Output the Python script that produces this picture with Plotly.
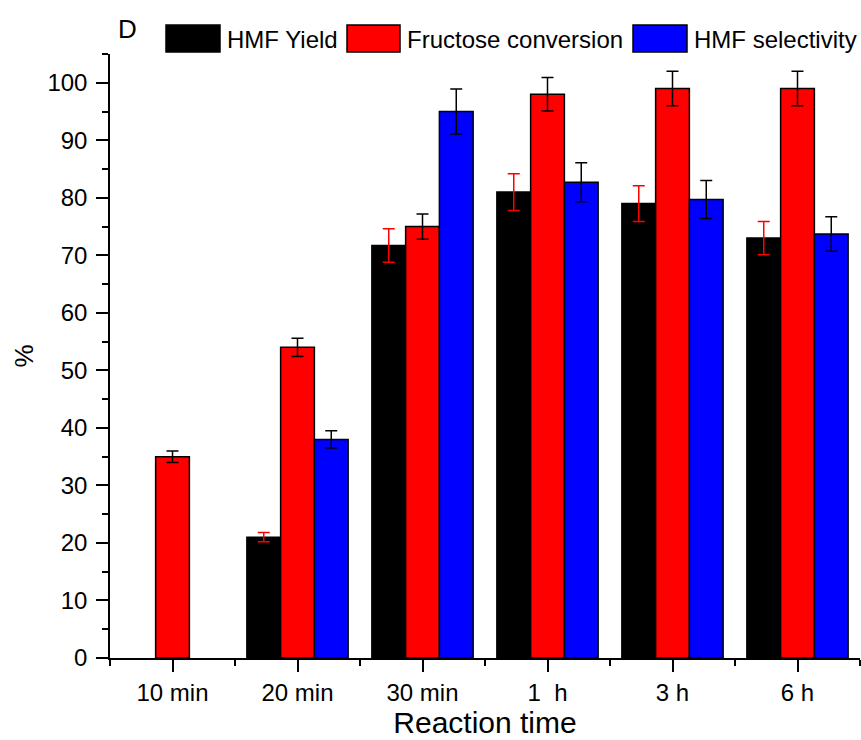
import plotly.graph_objects as go

# Reaction-time categories
categories = ["10 min", "20 min", "30 min", "1  h", "3 h", "6 h"]

# Series values (%) and their error bar half-widths
hmf_yield = [None, 21.0, 71.7, 81.0, 79.0, 73.0]
hmf_yield_err = [None, 0.8, 2.9, 3.2, 3.1, 2.9]

fructose_conv = [35.0, 54.0, 75.0, 98.0, 99.0, 99.0]
fructose_conv_err = [1.0, 1.6, 2.2, 2.9, 3.0, 3.0]

hmf_select = [None, 38.0, 95.0, 82.7, 79.7, 73.7]
hmf_select_err = [None, 1.5, 3.9, 3.4, 3.3, 3.0]

series = [
    ("HMF Yield", hmf_yield, hmf_yield_err, "#000000", "#ff0000"),
    ("Fructose conversion", fructose_conv, fructose_conv_err, "#ff0000", "#000000"),
    ("HMF selectivity", hmf_select, hmf_select_err, "#0000ff", "#000000"),
]

FONT = "Liberation Sans, Arial, sans-serif"
x_idx = list(range(len(categories)))

fig = go.Figure()
for name, vals, errs, fill, errcolor in series:
    fig.add_trace(go.Bar(
        x=x_idx, y=vals, name=name,
        marker=dict(color=fill, line=dict(color="#000000", width=1.5)),
        error_y=dict(type="data", array=errs, visible=True,
                     color=errcolor, thickness=1.5, width=6),
        showlegend=False,
    ))

# Legend drawn as large swatches with labels along the top edge
W, H = 861, 740
L, R, T, B = 110, 1, 54, 82
pw, ph = W - L - R, H - T - B

def px_x(px):
    return (px - L) / pw

def px_y(py):
    return (H - B - py) / ph

legend_pos = [(166, 220), (347, 400), (633, 687)]
shapes = []
annotations = []
for (name, _, _, fill, _), (x0, x1) in zip(series, legend_pos):
    shapes.append(dict(type="rect", xref="paper", yref="paper",
                       x0=px_x(x0), x1=px_x(x1), y0=px_y(52), y1=px_y(25),
                       fillcolor=fill, line=dict(color="#000000", width=1.5)))
    annotations.append(dict(text=name, xref="paper", yref="paper",
                            x=px_x(x1 + 5), y=px_y(39), xanchor="left",
                            yanchor="middle", showarrow=False,
                            font=dict(family=FONT, size=24, color="#000000")))

annotations.append(dict(text="D", xref="paper", yref="paper",
                        x=px_x(127), y=px_y(29), xanchor="center",
                        yanchor="middle", showarrow=False,
                        font=dict(family=FONT, size=26, color="#000000")))

fig.update_layout(
    width=W, height=H,
    margin=dict(l=L, r=R, t=T, b=B, pad=0),
    paper_bgcolor="white", plot_bgcolor="white",
    barmode="group", bargap=0.19, bargroupgap=0,
    shapes=shapes, annotations=annotations,
    font=dict(family=FONT, color="#000000"),
)

fig.update_xaxes(
    range=[-0.5, 5.5], tickvals=x_idx, ticktext=categories,
    showgrid=False, zeroline=False,
    showline=True, linecolor="#000000", linewidth=1.5,
    ticks="outside", ticklen=12, tickwidth=1.5, tickcolor="#000000",
    minor=dict(tick0=-0.5, dtick=1, ticks="outside", ticklen=6,
               tickwidth=1.5, tickcolor="#000000", showgrid=False),
    tickfont=dict(family=FONT, size=24),
    title=dict(text="Reaction time", font=dict(family=FONT, size=30), standoff=2),
)

fig.update_yaxes(
    range=[0, 105], dtick=10, tick0=0,
    showgrid=False, zeroline=False,
    showline=True, linecolor="#000000", linewidth=1.5,
    ticks="outside", ticklen=12, tickwidth=1.5, tickcolor="#000000",
    minor=dict(dtick=5, ticks="outside", ticklen=6,
               tickwidth=1.5, tickcolor="#000000", showgrid=False),
    tickfont=dict(family=FONT, size=24),
    ticklabelstandoff=4,
    title=dict(text="%", font=dict(family=FONT, size=26), standoff=6),
)

fig.write_html("out.html")
